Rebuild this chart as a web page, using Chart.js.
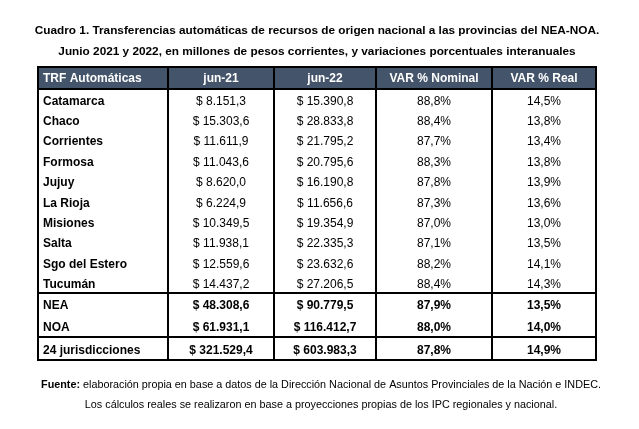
<!DOCTYPE html>
<html>
<head>
<meta charset="utf-8">
<script src="https://cdn.jsdelivr.net/npm/chart.js@4.4.0/dist/chart.umd.min.js"></script>
<style>
  html, body { margin: 0; padding: 0; background: #fff; }
  #wrap { width: 639px; height: 429px; }
</style>
</head>
<body>
<div id="wrap"><canvas id="tabla" width="639" height="429"></canvas></div>
<script>
// datos del cuadro
var titulo = [
    'Cuadro 1. Transferencias automáticas de recursos de origen nacional a las provincias del NEA-NOA.',
    'Junio 2021 y 2022, en millones de pesos corrientes, y variaciones porcentuales interanuales'
];
var columnas = ['TRF Automáticas', 'jun-21', 'jun-22', 'VAR % Nominal', 'VAR % Real'];
var provincias = ['Catamarca', 'Chaco', 'Corrientes', 'Formosa', 'Jujuy', 'La Rioja', 'Misiones', 'Salta', 'Sgo del Estero', 'Tucumán'];
var jun21 = [8151.3, 15303.6, 11611.9, 11043.6, 8620.0, 6224.9, 10349.5, 11938.1, 12559.6, 14437.2];
var jun22 = [15390.8, 28833.8, 21795.2, 20795.6, 16190.8, 11656.6, 19354.9, 22335.3, 23632.6, 27206.5];
var varNominal = [88.8, 88.4, 87.7, 88.3, 87.8, 87.3, 87.0, 87.1, 88.2, 88.4];
var varReal = [14.5, 13.8, 13.4, 13.8, 13.9, 13.6, 13.0, 13.5, 14.1, 14.3];
var regiones = ['NEA', 'NOA', '24 jurisdicciones'];
var regJun21 = [48308.6, 61931.1, 321529.4];
var regJun22 = [90779.5, 116412.7, 603983.3];
var regNominal = [87.9, 88.0, 87.8];
var regReal = [13.5, 14.0, 14.9];
var fuente = ['Fuente:', ' elaboración propia en base a datos de la Dirección Nacional de Asuntos Provinciales de la Nación e INDEC.'];
var nota = 'Los cálculos reales se realizaron en base a proyecciones propias de los IPC regionales y nacional.';

// formato argentino: miles con punto, decimal con coma
function pesos(v) {
    var p = v.toFixed(1).split('.');
    return '$ ' + p[0].replace(/\B(?=(\d{3})+(?!\d))/g, '.') + ',' + p[1];
}
function pct(v) {
    return v.toFixed(1).replace('.', ',') + '%';
}

// geometría del cuadro (unidades de las escalas)
var colBordes = [0, 130, 236, 338, 454, 558];
var filaAltos = [22];
provincias.forEach(function () { filaAltos.push(20.4); });
filaAltos.push(22, 22, 23);
var filaBordes = [0];
filaAltos.forEach(function (h, i) { filaBordes.push(filaBordes[i] + h); });
var totalAlto = filaBordes[filaBordes.length - 1];

// celdas como puntos del dataset
var celdas = [];
function agregarFila(fila, valores, tipo) {
    var yc = (filaBordes[fila] + filaBordes[fila + 1]) / 2;
    valores.forEach(function (txt, c) {
        var izq = c === 0;
        celdas.push({
            x: izq ? colBordes[0] + 5 : (colBordes[c] + colBordes[c + 1]) / 2,
            y: yc,
            t: txt,
            tipo: tipo,
            izq: izq
        });
    });
}
agregarFila(0, columnas, 'head');
provincias.forEach(function (p, i) {
    agregarFila(i + 1, [p, pesos(jun21[i]), pesos(jun22[i]), pct(varNominal[i]), pct(varReal[i])], 'body');
});
regiones.forEach(function (r, i) {
    agregarFila(provincias.length + 1 + i, [r, pesos(regJun21[i]), pesos(regJun22[i]), pct(regNominal[i]), pct(regReal[i])], 'total');
});

var FUENTE = '"Liberation Sans", Arial, sans-serif';

var tablaPlugin = {
    id: 'tabla',
    beforeDatasetsDraw: function (chart) {
        var ctx = chart.ctx;
        var sx = chart.scales.x, sy = chart.scales.y;
        ctx.save();
        // fondo del encabezado
        ctx.fillStyle = '#44546a';
        var x0 = sx.getPixelForValue(colBordes[0]), x1 = sx.getPixelForValue(colBordes[colBordes.length - 1]);
        var y0 = sy.getPixelForValue(filaBordes[0]), y1 = sy.getPixelForValue(filaBordes[1]);
        ctx.fillRect(x0, y0, x1 - x0, y1 - y0);

        // líneas
        ctx.strokeStyle = '#000';
        ctx.lineWidth = 2;
        var yTop = sy.getPixelForValue(0), yBot = sy.getPixelForValue(totalAlto);
        colBordes.forEach(function (c) {
            var x = Math.round(sx.getPixelForValue(c));
            ctx.beginPath(); ctx.moveTo(x, yTop - 1); ctx.lineTo(x, yBot + 1); ctx.stroke();
        });
        var lineasH = [0, filaBordes[1], filaBordes[provincias.length + 1], filaBordes[provincias.length + 3], totalAlto];
        lineasH.forEach(function (f) {
            var y = Math.round(sy.getPixelForValue(f));
            ctx.beginPath(); ctx.moveTo(x0 - 1, y); ctx.lineTo(x1 + 1, y); ctx.stroke();
        });
        ctx.restore();
    },
    afterDatasetsDraw: function (chart) {
        var ctx = chart.ctx;
        var meta = chart.getDatasetMeta(0);
        ctx.save();
        ctx.textBaseline = 'middle';
        meta.data.forEach(function (el, i) {
            var d = chart.data.datasets[0].data[i];
            var negrita = d.tipo !== 'body' || d.izq;
            ctx.font = (negrita ? 'bold ' : '') + '12px ' + FUENTE;
            ctx.fillStyle = d.tipo === 'head' ? '#ffffff' : '#000000';
            ctx.textAlign = d.izq ? 'left' : 'center';
            ctx.fillText(d.t, el.x, el.y + (d.tipo === 'head' ? 1 : 2));
        });

        // títulos
        ctx.fillStyle = '#000000';
        ctx.textAlign = 'center';
        ctx.font = 'bold 11.8px ' + FUENTE;
        ctx.fillText(titulo[0], 317, 31);
        ctx.fillText(titulo[1], 317, 52);

        // notas al pie
        var tam = '10.8px ';
        ctx.font = 'bold ' + tam + FUENTE;
        var w0 = ctx.measureText(fuente[0]).width;
        ctx.font = tam + FUENTE;
        var w1 = ctx.measureText(fuente[1]).width;
        var xs = 321 - (w0 + w1) / 2;
        ctx.textAlign = 'left';
        ctx.font = 'bold ' + tam + FUENTE;
        ctx.fillText(fuente[0], xs, 385);
        ctx.font = tam + FUENTE;
        ctx.fillText(fuente[1], xs + w0, 385);
        ctx.textAlign = 'center';
        ctx.fillText(nota, 321, 405);
        ctx.restore();
    }
};

var chart = new Chart(document.getElementById('tabla'), {
    type: 'scatter',
    data: {
        datasets: [{
            label: 'celdas',
            data: celdas,
            pointRadius: 0,
            pointHoverRadius: 0
        }]
    },
    options: {
        responsive: false,
        animation: false,
        events: [],
        layout: { padding: { left: 38, right: 43, top: 67, bottom: 69 } },
        scales: {
            x: { type: 'linear', min: 0, max: colBordes[colBordes.length - 1], display: false },
            y: { type: 'linear', min: 0, max: totalAlto, reverse: true, display: false }
        },
        plugins: {
            legend: { display: false },
            tooltip: { enabled: false }
        }
    },
    plugins: [tablaPlugin]
});
</script>
</body>
</html>
